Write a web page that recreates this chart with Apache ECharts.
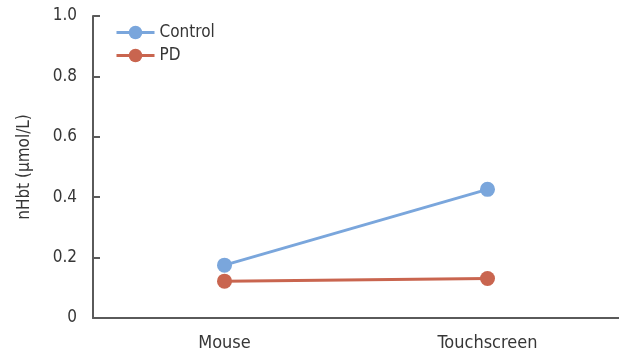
<!DOCTYPE html>
<html>
<head>
<meta charset="utf-8">
<script src="https://cdn.jsdelivr.net/npm/echarts@6/dist/echarts.min.js"></script>
<style>html,body{margin:0;padding:0;background:#fff}#c{width:619px;height:356px}</style>
</head>
<body>
<div id="c"></div>
<script>
var categories = ['Mouse', 'Touchscreen'];
var controlValues = [0.175, 0.426];
var pdValues = [0.122, 0.131];
var yTicks = [0, 0.2, 0.4, 0.6, 0.8, 1.0];

var FONT = '"DejaVu Sans Condensed", "Roboto", sans-serif';
var axisColor = '#5a5a5a';
var textColor = '#363636';

var chart = echarts.init(document.getElementById('c'), null, {renderer: 'canvas'});
chart.setOption({
  animation: false,
  backgroundColor: '#fff',
  grid: {left: 93, right: -2, top: 16, bottom: 38, containLabel: false},
  legend: {
    orient: 'vertical',
    left: 110, top: 19,
    itemWidth: 38, itemHeight: 17, itemGap: 6,
    lineStyle: {width: 3},
    textStyle: {fontFamily: FONT, fontSize: 17, color: textColor},
    data: ['Control', 'PD']
  },
  xAxis: {
    type: 'category',
    data: categories,
    axisLine: {lineStyle: {color: axisColor, width: 2}},
    axisTick: {show: false},
    axisLabel: {fontFamily: FONT, fontSize: 18, color: textColor, margin: 16},
    splitLine: {show: false}
  },
  yAxis: {
    type: 'value',
    min: 0, max: 1, interval: 0.2,
    name: 'nHbt (μmol/L)',
    nameLocation: 'middle',
    nameGap: 60,
    nameTextStyle: {fontFamily: FONT, fontSize: 17, color: textColor},
    axisLine: {show: true, lineStyle: {color: axisColor, width: 2}},
    axisTick: {show: true, inside: true, length: 7, lineStyle: {color: axisColor, width: 2}},
    axisLabel: {
      fontFamily: FONT, fontSize: 17, color: textColor, margin: 16,
      formatter: function (v) {
        var t = yTicks.filter(function (x) { return Math.abs(x - v) < 1e-9; })[0];
        if (t === undefined) return '';
        return t === 0 ? '0' : t.toFixed(1);
      }
    },
    splitLine: {show: false}
  },
  series: [
    {
      name: 'Control', type: 'line', data: controlValues,
      symbol: 'circle', symbolSize: 15,
      itemStyle: {color: '#7aa6dc'},
      lineStyle: {color: '#7aa6dc', width: 3}
    },
    {
      name: 'PD', type: 'line', data: pdValues,
      symbol: 'circle', symbolSize: 15,
      itemStyle: {color: '#c9654f'},
      lineStyle: {color: '#c9654f', width: 3}
    }
  ]
});
</script>
</body>
</html>
